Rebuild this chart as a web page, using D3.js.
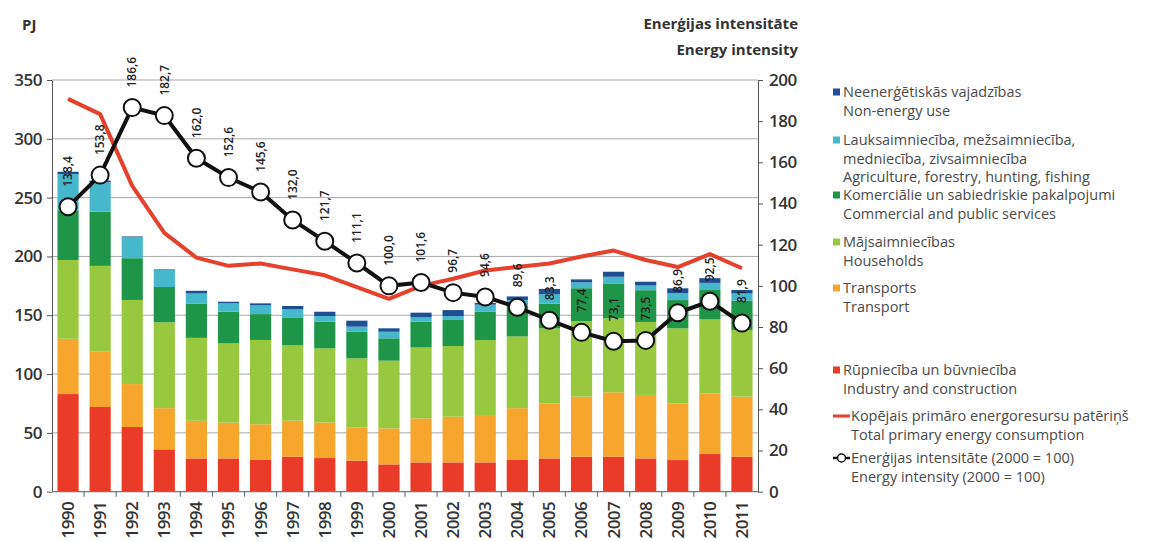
<!DOCTYPE html>
<html>
<head>
<meta charset="utf-8">
<script src="https://cdn.jsdelivr.net/npm/d3@7"></script>
<style>
  body { margin: 0; background: #fff; }
  svg { display: block; font-family: "Open Sans", sans-serif; }
</style>
</head>
<body>
<div class="chart"></div>
<script>
const svgWidth = 1165;
const svgHeight = 542;

const margin = { top: 80, right: 407, bottom: 50, left: 52 };

const years = ["1990", "1991", "1992", "1993", "1994", "1995", "1996", "1997", "1998", "1999", "2000",
    "2001", "2002", "2003", "2004", "2005", "2006", "2007", "2008", "2009", "2010", "2011"];

// PJ by sector
const industry = [83, 72, 55, 36, 28.3, 28.3, 27, 29.8, 28.6, 26.4, 23.2, 24.9, 24.9, 24.9, 27, 28.3, 29.8, 29.8, 28.3, 26.9, 32, 29.8];
const transport = [47, 47, 36.5, 35, 32, 30.4, 30.3, 30.6, 30.3, 28.3, 30.6, 37.4, 38.9, 40.3, 44, 46.8, 51, 54.7, 54, 48.2, 51.6, 51];
const households = [67, 73, 71.5, 73, 70.5, 67.4, 71.7, 64.3, 63, 58.7, 57.6, 60.4, 60, 63.7, 61, 63.8, 64.2, 63, 62, 63.8, 62.9, 56.7];
const commercial = [42, 46, 35.5, 30, 29.2, 27, 22, 23.5, 22.6, 22.6, 19, 21.8, 22.2, 24.1, 26, 21, 28, 29.6, 27, 24, 25, 25];
const agriculture = [31, 25, 18, 14.5, 8.5, 7, 7.4, 6.8, 4.8, 4.3, 5.6, 3.7, 3.3, 6, 5, 8, 5, 5.6, 4, 6, 6, 6];
const nonEnergy = [2, 1.5, 0.5, 0.5, 2.3, 1.4, 1.7, 2.9, 3.7, 5.1, 2.9, 4, 5.1, 1.5, 3, 4.5, 2.5, 4.3, 3.2, 4, 4, 3];

// total primary energy consumption, PJ
const primaryTotal = [334, 321, 260, 220, 199, 192, 194, 189, 184, 174, 164, 175, 181, 188, 191, 194, 200, 205, 197, 191, 202, 190];

// energy intensity, 2000 = 100
const intensity = [138.4, 153.8, 186.6, 182.7, 162.0, 152.6, 145.6, 132.0, 121.7, 111.1, 100.0,
    101.6, 96.7, 94.6, 89.6, 83.3, 77.4, 73.1, 73.5, 86.9, 92.5, 81.9];

const leftTicks = [0, 50, 100, 150, 200, 250, 300, 350];
const rightTicks = [0, 20, 40, 60, 80, 100, 120, 140, 160, 180, 200];

const sectors = [
    { key: "industry", values: industry, color: "#ea3b28", lv: "Rūpniecība un būvniecība", en: "Industry and construction" },
    { key: "transport", values: transport, color: "#f6a62c", lv: "Transports", en: "Transport" },
    { key: "households", values: households, color: "#97c83e", lv: "Mājsaimniecības", en: "Households" },
    { key: "commercial", values: commercial, color: "#1f9548", lv: "Komerciālie un sabiedriskie pakalpojumi", en: "Commercial and public services" },
    { key: "agriculture", values: agriculture, color: "#47b7cc", lv: "Lauksaimniecība, mežsaimniecība,", lv2: "medniecība, zivsaimniecība", en: "Agriculture, forestry, hunting, fishing" },
    { key: "nonEnergy", values: nonEnergy, color: "#1d4f92", lv: "Neenerģētiskās vajadzības", en: "Non-energy use" }
];

const plotRight = svgWidth - margin.right;
const plotBottom = 491.7;

const svg = d3.select(".chart")
    .append("svg")
    .attr("width", svgWidth)
    .attr("height", svgHeight);

const x = d3.scaleBand()
    .domain(years)
    .range([margin.left, plotRight])
    .paddingInner(0.34)
    .paddingOuter(0.17);

const yLeft = d3.scaleLinear().domain([0, 350]).range([plotBottom, margin.top]);
const yRight = d3.scaleLinear().domain([0, 200]).range([plotBottom, margin.top]);

// grid
svg.append("g")
    .selectAll("line")
    .data(leftTicks.slice(1))
    .enter()
    .append("line")
    .attr("x1", margin.left)
    .attr("x2", plotRight)
    .attr("y1", d => yLeft(d))
    .attr("y2", d => yLeft(d))
    .attr("stroke", "#a9a9a9")
    .attr("stroke-width", 1);

// stacked bars
const rows = years.map((yr, i) => {
    const r = { year: yr };
    sectors.forEach(s => r[s.key] = s.values[i]);
    return r;
});
const stack = d3.stack().keys(sectors.map(s => s.key));
const layers = stack(rows);

svg.append("g")
    .selectAll("g")
    .data(layers)
    .enter()
    .append("g")
    .attr("fill", (d, i) => sectors[i].color)
    .selectAll("rect")
    .data(d => d)
    .enter()
    .append("rect")
    .attr("x", d => x(d.data.year))
    .attr("width", x.bandwidth())
    .attr("y", d => yLeft(d[1]))
    .attr("height", d => yLeft(d[0]) - yLeft(d[1]));

// axes
const tickFont = g => g.selectAll("text")
    .style("font-family", "'Open Sans', sans-serif")
    .style("font-size", "17px")
    .style("font-weight", "600")
    .style("letter-spacing", "-0.5px")
    .attr("fill", "#333");

const leftAxis = svg.append("g")
    .attr("transform", `translate(${margin.left},0)`)
    .call(d3.axisLeft(yLeft).tickValues(leftTicks).tickSize(5).tickPadding(5).tickSizeOuter(0))
    .call(tickFont);
leftAxis.selectAll("line, path").attr("stroke", "#555");

const rightAxis = svg.append("g")
    .attr("transform", `translate(${plotRight},0)`)
    .call(d3.axisRight(yRight).tickValues(rightTicks).tickSize(5).tickPadding(6).tickSizeOuter(0))
    .call(tickFont);
rightAxis.selectAll("line, path").attr("stroke", "#555");

// x axis line with ticks between bars
const xAxis = svg.append("g");
xAxis.append("line")
    .attr("x1", margin.left)
    .attr("x2", plotRight)
    .attr("y1", plotBottom)
    .attr("y2", plotBottom)
    .attr("stroke", "#6a7a8c")
    .attr("stroke-width", 1.2);
xAxis.selectAll(".sep")
    .data(years.slice(1))
    .enter()
    .append("line")
    .attr("x1", d => x(d) - x.step() * x.paddingInner() / 2)
    .attr("x2", d => x(d) - x.step() * x.paddingInner() / 2)
    .attr("y1", plotBottom)
    .attr("y2", plotBottom + 5)
    .attr("stroke", "#6a7a8c")
    .attr("stroke-width", 1.2);
xAxis.selectAll(".yr")
    .data(years)
    .enter()
    .append("text")
    .attr("transform", d => `translate(${x(d) + x.bandwidth() / 2},502) rotate(-90)`)
    .attr("dy", "0.35em")
    .attr("text-anchor", "end")
    .style("font-size", "17px")
    .style("font-weight", "600")
    .style("letter-spacing", "-0.6px")
    .attr("fill", "#333")
    .text(d => d);

// total primary energy line
const cx = d => x(d) + x.bandwidth() / 2;
svg.append("path")
    .datum(years)
    .attr("fill", "none")
    .attr("stroke", "#e5412d")
    .attr("stroke-width", 4)
    .attr("stroke-linejoin", "round")
    .attr("d", d3.line().x(d => cx(d)).y((d, i) => yLeft(primaryTotal[i])));

// energy intensity line
svg.append("path")
    .datum(years)
    .attr("fill", "none")
    .attr("stroke", "#111")
    .attr("stroke-width", 4)
    .attr("d", d3.line().x(d => cx(d)).y((d, i) => yRight(intensity[i])));

svg.append("g")
    .selectAll("circle")
    .data(years)
    .enter()
    .append("circle")
    .attr("cx", d => cx(d))
    .attr("cy", (d, i) => yRight(intensity[i]))
    .attr("r", 8.5)
    .attr("fill", "#fff")
    .attr("stroke", "#111")
    .attr("stroke-width", 2);

const fmt = v => v.toFixed(1).replace(".", ",");
svg.append("g")
    .selectAll("text")
    .data(years)
    .enter()
    .append("text")
    .attr("transform", (d, i) => `translate(${cx(d)},${yRight(intensity[i]) - 20}) rotate(-90)`)
    .attr("dy", "0.35em")
    .style("font-size", "12px")
    .style("font-weight", "600")
    .attr("fill", "#222")
    .text((d, i) => fmt(intensity[i]));

// titles
svg.append("text")
    .attr("x", 22).attr("y", 30)
    .style("font-size", "15px").style("font-weight", "700")
    .attr("fill", "#333")
    .text("PJ");
svg.append("text")
    .attr("x", 798).attr("y", 29)
    .attr("text-anchor", "end")
    .style("font-size", "15px").style("font-weight", "700")
    .attr("fill", "#333")
    .text("Enerģijas intensitāte");
svg.append("text")
    .attr("x", 798).attr("y", 55)
    .attr("text-anchor", "end")
    .style("font-size", "15px").style("font-weight", "700")
    .attr("fill", "#333")
    .text("Energy intensity");

// legend
const legend = svg.append("g").attr("transform", "translate(833,0)");
const legendItems = sectors.slice().reverse();
const legendY = [92, 140, 195, 242, 288, 370];
const lineH = 18.5;

legendItems.forEach((s, i) => {
    const g = legend.append("g").attr("transform", `translate(0,${legendY[i]})`);
    g.append("rect")
        .attr("x", 0).attr("y", -3.5)
        .attr("width", 7).attr("height", 7)
        .attr("fill", s.color);
    const lines = [s.lv];
    if (s.lv2) lines.push(s.lv2);
    lines.push(s.en);
    g.selectAll("text")
        .data(lines)
        .enter()
        .append("text")
        .attr("x", 10)
        .attr("y", (d, j) => j * lineH)
        .attr("dy", "0.35em")
        .style("font-size", "14.5px")
        .attr("fill", "#4a4a4a")
        .text(d => d);
});

const redItem = legend.append("g").attr("transform", "translate(0,416)");
redItem.append("line")
    .attr("x1", 0).attr("x2", 17)
    .attr("stroke", "#e5412d").attr("stroke-width", 3);
redItem.selectAll("text")
    .data(["Kopējais primāro energoresursu patēriņš", "Total primary energy consumption"])
    .enter()
    .append("text")
    .attr("x", 18)
    .attr("y", (d, j) => j * lineH)
    .attr("dy", "0.35em")
    .style("font-size", "14.5px")
    .attr("fill", "#4a4a4a")
    .text(d => d);

const blackItem = legend.append("g").attr("transform", "translate(0,458)");
blackItem.append("line")
    .attr("x1", 0).attr("x2", 17)
    .attr("stroke", "#111").attr("stroke-width", 2.5);
blackItem.append("circle")
    .attr("cx", 8.5).attr("r", 4)
    .attr("fill", "#fff").attr("stroke", "#111").attr("stroke-width", 1.5);
blackItem.selectAll("text")
    .data(["Enerģijas intensitāte (2000 = 100)", "Energy intensity (2000 = 100)"])
    .enter()
    .append("text")
    .attr("x", 18)
    .attr("y", (d, j) => j * lineH)
    .attr("dy", "0.35em")
    .style("font-size", "14.5px")
    .attr("fill", "#4a4a4a")
    .text(d => d);
</script>
</body>
</html>
